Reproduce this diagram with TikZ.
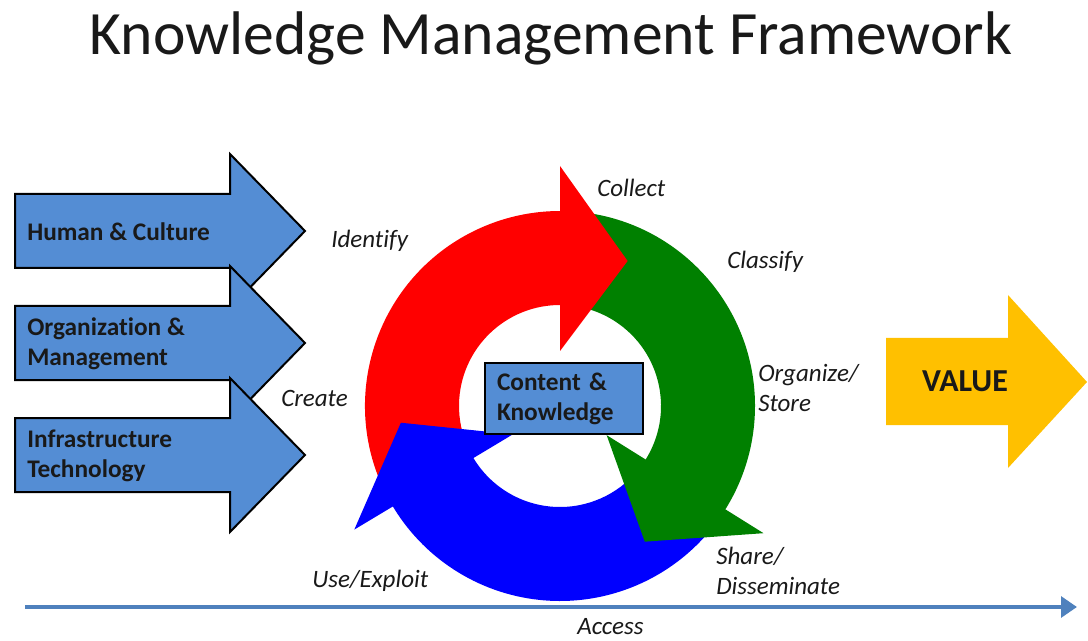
\documentclass[tikz,border=0pt]{standalone}
\usepackage{fontspec}
\setmainfont{Carlito}[Ligatures=NoCommon]
\usetikzlibrary{arrows.meta}

\definecolor{kmblue}{RGB}{84,141,212}
\definecolor{kmgold}{RGB}{255,192,0}
\definecolor{kmgreen}{RGB}{0,128,0}
\definecolor{kmline}{RGB}{79,129,189}
\definecolor{kmtext}{RGB}{25,25,25}

% ring segment between two angles (outer 195, inner 101)
\newcommand{\ringbody}[3]{%
  \fill[#1] (#2:195) arc[start angle=#2, end angle=#3, radius=195]
    -- (#3:101) arc[start angle=#3, end angle=#2, radius=101] -- cycle;}
% arrow head: base angle, tip angle
\newcommand{\ringhead}[3]{%
  \fill[#1] (#2:240) -- (#3:160) -- (#2:55) -- cycle;}

\begin{document}
\begin{tikzpicture}[x=0.75pt, y=0.75pt,
    lbl/.style={font=\fontsize{18.75pt}{22.5pt}\selectfont\itshape, text=kmtext, inner sep=0pt, align=left, anchor=west},
    boldlbl/.style={font=\fontsize{19pt}{22.5pt}\selectfont\bfseries, text=kmtext, inner sep=0pt, align=left, anchor=west},
    inarrow/.style={draw=black, line width=1.5pt, fill=kmblue, line join=miter},
    accessline/.style={draw=kmline, line width=3.6pt, -{Triangle[length=12pt, width=15.5pt]}}]
  \useasboundingbox (0,0) rectangle (1088,-641);

  \node[anchor=base, inner sep=0pt, text=kmtext, font=\fontsize{46.2pt}{50pt}\selectfont] (title) at (551,-55) {Knowledge Management Framework};

  % input arrows
  \foreach \c in {231,343,455}
    \draw[inarrow] (15,{37-\c}) -- (230,{37-\c}) -- (230,{77-\c}) -- (305,-\c)
      -- (230,{-77-\c}) -- (230,{-37-\c}) -- (15,{-37-\c}) -- cycle;
  \node[boldlbl] (human) at (27,-232) {Human \& Culture};
  \node[boldlbl] (org) at (27,-343.5) {Organization \&\\Management};
  \node[boldlbl] (infra) at (27,-456) {Infrastructure\\Technology};

  % the cycle
  \begin{scope}[shift={(560,-406)}]
    \ringbody{red}{206}{89}
    \ringbody{kmgreen}{86}{-33}
    \ringbody{blue}{-36}{-150}
    \ringhead{red}{90}{65}
    \ringhead{kmgreen}{-32}{-58}
    \ringhead{blue}{-149}{-174}
  \end{scope}

  \node[draw=black, line width=1.2pt, fill=kmblue, minimum height=53.25pt, text width=100.5pt, inner xsep=9pt,
    font=\fontsize{19pt}{22.5pt}\selectfont\bfseries, text=kmtext, align=left] (content) at (564,-398.5) {Content \&\\Knowledge};

  \node[lbl] (collect) at (597,-188) {Collect};
  \node[lbl] (identify) at (331,-241) {Identify};
  \node[lbl] (classify) at (727,-262) {Classify};
  \node[lbl] (organize) at (758,-388) {Organize/\\Store};
  \node[lbl] (create) at (281,-398) {Create};
  \node[lbl] (share) at (716,-571) {Share/\\Disseminate};
  \node[lbl] (use) at (312,-581) {Use/Exploit};

  % value
  \fill[kmgold] (886,-338) -- (1008,-338) -- (1008,-295) -- (1087,-382)
    -- (1008,-468) -- (1008,-425) -- (886,-425) -- cycle;
  \node[font=\fontsize{24pt}{28pt}\selectfont\bfseries, text=kmtext, inner sep=0pt] (value) at (965,-381) {VALUE};

  % access axis
  \coordinate (axstart) at (25,-607);
  \coordinate (axend) at (1077,-607);
  \draw[accessline] (axstart) -- (axend);
  \node[lbl] (access) at (577,-627) {Access};
\end{tikzpicture}
\end{document}
